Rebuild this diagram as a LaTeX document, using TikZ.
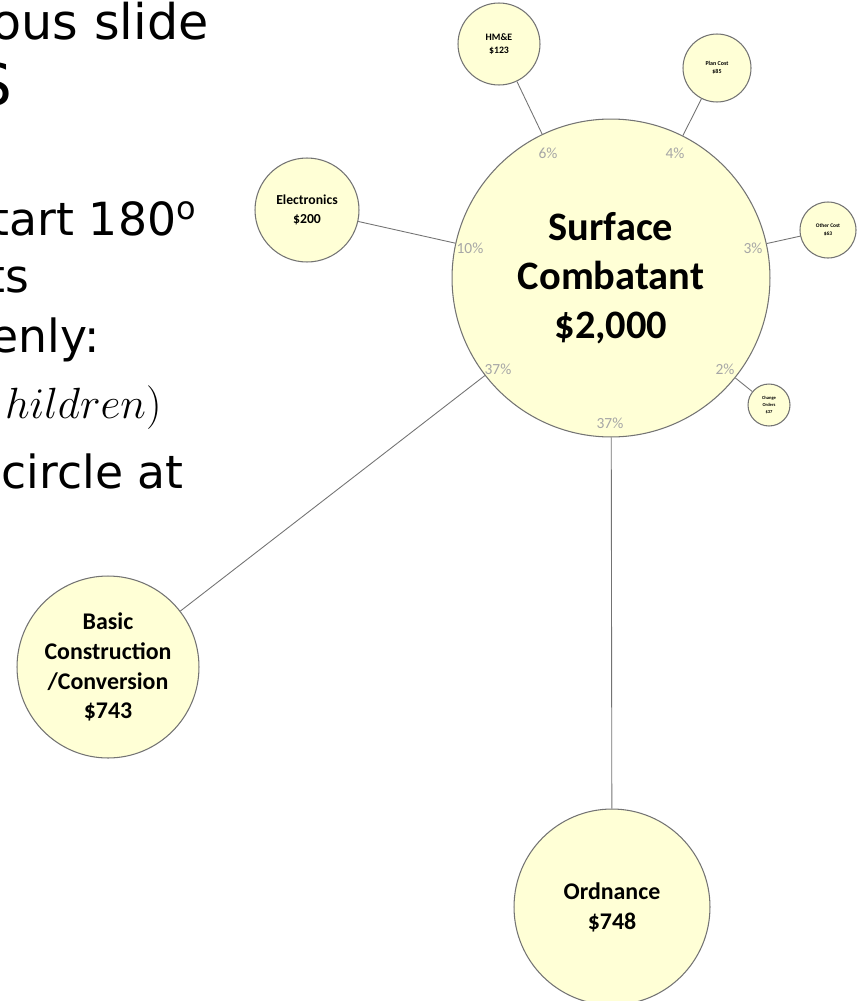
\documentclass[tikz,border=0pt]{standalone}
\usepackage{fontspec}
\setmainfont{DejaVu Sans}
\newfontfamily\calibri{Carlito}
\usepackage{xcolor}
\definecolor{bubblefill}{HTML}{FFFFD6}
\definecolor{bubbleline}{HTML}{737373}
\definecolor{pcttext}{HTML}{A6A6A6}
\usetikzlibrary{positioning}

\begin{document}
\begin{tikzpicture}[x=0.02cm, y=-0.02cm,
  bubble/.style={circle, draw=bubbleline, fill=bubblefill, line width=0.6pt,
    inner sep=0pt, align=center},
  link/.style={draw=bubbleline, line width=0.5pt},
  pct/.style={text=pcttext, inner sep=0pt, font=\calibri\fontsize{8.8}{10}\selectfont},
  slide/.style={anchor=base east, inner sep=0pt, font=\fontsize{26}{31}\selectfont}]
  \useasboundingbox (0,0) rectangle (858,1001);
  \clip (0,0) rectangle (858,1001);

  % slide text, cut at the left edge
  \node[slide, font=\fontsize{28}{34}\selectfont] (t1) at (209,39) {ous slide};
  \node[slide, font=\fontsize{33}{40}\selectfont] (t2) at (13,105) {S};
  \node[slide] (t3) at (197,235) {tart 180\textsuperscript{o}};
  \node[slide] (t4) at (30,292) {ts};
  \node[slide] (t5) at (100,352) {enly:};
  \node[slide] (t6) at (162,418) {$hildren)$};
  \node[slide] (t7) at (184,488) {circle at};

  % parent
  \node[bubble, minimum size=6.36cm,
    font=\calibri\bfseries\fontsize{23}{28}\selectfont] (main) at (611,278)
    {Surface\\Combatant\\\$2,000};

  % children
  \node[bubble, minimum size=2.08cm,
    font=\calibri\bfseries\fontsize{7.8}{10.4}\selectfont] (elec) at (307,210)
    {Electronics\\\$200};
  \node[bubble, minimum size=1.64cm,
    font=\calibri\bfseries\fontsize{5.6}{7.6}\selectfont] (hme) at (499,44)
    {HM\&E\\\$123};
  \node[bubble, minimum size=1.36cm,
    font=\calibri\bfseries\fontsize{3.4}{4.7}\selectfont] (plan) at (717,68)
    {Plan Cost\\\$85};
  \node[bubble, minimum size=1.12cm,
    font=\calibri\bfseries\fontsize{3.1}{4.3}\selectfont] (other) at (828,230)
    {Other Cost\\\$63};
  \node[bubble, minimum size=0.84cm,
    font=\calibri\bfseries\fontsize{2.6}{4}\selectfont] (change) at (769,405)
    {Change\\Orders\\\$37};
  \node[bubble, minimum size=3.64cm,
    font=\calibri\bfseries\fontsize{13.6}{17}\selectfont] (basic) at (108,667)
    {Basic\\Construction\\/Conversion\\\$743};
  \node[bubble, minimum size=3.92cm,
    font=\calibri\bfseries\fontsize{13.6}{17}\selectfont] (ord) at (612,907)
    {Ordnance\\\$748};

  \draw[link] (main) -- (elec);
  \draw[link] (main) -- (hme);
  \draw[link] (main) -- (plan);
  \draw[link] (main) -- (other);
  \draw[link] (main) -- (change);
  \draw[link] (main) -- (basic);
  \draw[link] (main) -- (ord);

  % shares
  \node[pct] (p1) at (548,153) {6\%};
  \node[pct] (p2) at (675,153) {4\%};
  \node[pct] (p3) at (470,248) {10\%};
  \node[pct] (p4) at (753,248) {3\%};
  \node[pct] (p5) at (498,369) {37\%};
  \node[pct] (p6) at (725,369) {2\%};
  \node[pct] (p7) at (610,423) {37\%};
\end{tikzpicture}
\end{document}
